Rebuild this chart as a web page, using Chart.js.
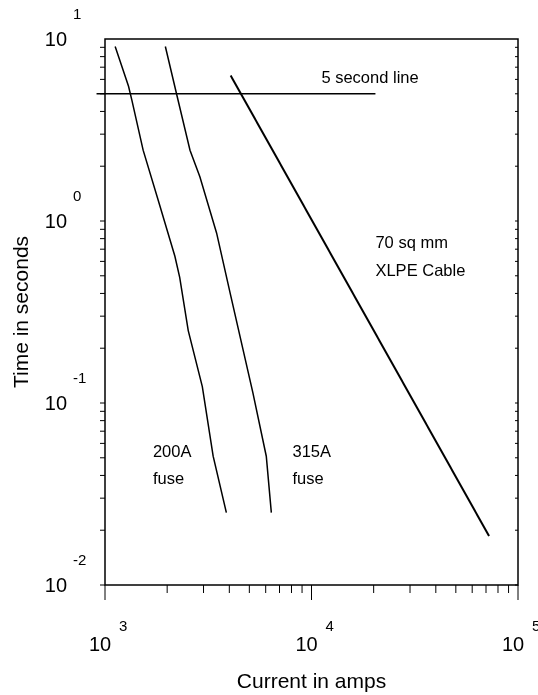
<!DOCTYPE html>
<html>
<head>
  <title>Fuse and cable time-current curves</title>
  <script src="https://cdn.jsdelivr.net/npm/chart.js"></script>
  <style>
    body { margin: 0; background: #fff; }
  </style>
</head>
<body>
<canvas id="chart" width="538" height="695"></canvas>
<script>
// values (current in A, time in s)
const fuse200Current = [1120, 1300, 1350, 1530, 1810, 2180, 2300, 2530, 2960, 3340, 3870];
const fuse200Time    = [9.1, 5.5, 4.6, 2.45, 1.3, 0.64, 0.49, 0.25, 0.123, 0.051, 0.025];
const fuse315Current = [1960, 2220, 2580, 2880, 3470, 4060, 5200, 6040, 6390];
const fuse315Time    = [9.1, 5.0, 2.45, 1.75, 0.86, 0.39, 0.114, 0.051, 0.025];
const cableCurrent   = [4060, 72400];
const cableTime      = [6.3, 0.0186];
const fiveSecCurrent = [910, 20400];
const fiveSecTime    = [5, 5];

const xTickExponents = [3, 4, 5];
const yTickExponents = [-2, -1, 0, 1];

const notes = [
  { text: '5 second line', x: 11170, y: 6.1 },
  { text: '70 sq mm', x: 20400, y: 0.757 },
  { text: 'XLPE Cable', x: 20400, y: 0.525 },
  { text: '200A', x: 1706, y: 0.0538 },
  { text: 'fuse', x: 1706, y: 0.0382 },
  { text: '315A', x: 8090, y: 0.0538 },
  { text: 'fuse', x: 8090, y: 0.0382 }
];

function pairs(xs, ys) {
  return xs.map((v, i) => ({ x: v, y: ys[i] }));
}

const FONT = '"Liberation Sans", Arial, sans-serif';

const decorations = {
  id: 'decorations',
  afterDraw(chart) {
    const { ctx, chartArea: a, scales: { x, y } } = chart;
    ctx.save();
    ctx.strokeStyle = '#000';
    ctx.fillStyle = '#000';

    ctx.lineWidth = 1.5;
    ctx.strokeRect(a.left, a.top, a.right - a.left, a.bottom - a.top);

    // tick marks
    ctx.lineWidth = 1;
    ctx.beginPath();
    for (let d = xTickExponents[0]; d < xTickExponents[xTickExponents.length - 1]; d++) {
      for (let m = 1; m <= 9; m++) {
        const px = x.getPixelForValue(m * Math.pow(10, d));
        const len = m === 1 ? 15 : 8;
        ctx.moveTo(px, a.bottom);
        ctx.lineTo(px, a.bottom + len);
      }
    }
    const pxEnd = x.getPixelForValue(Math.pow(10, xTickExponents[xTickExponents.length - 1]));
    ctx.moveTo(pxEnd, a.bottom);
    ctx.lineTo(pxEnd, a.bottom + 15);
    for (let d = yTickExponents[0]; d < yTickExponents[yTickExponents.length - 1]; d++) {
      for (let m = 1; m <= 9; m++) {
        const py = y.getPixelForValue(m * Math.pow(10, d));
        ctx.moveTo(a.left - 5, py);
        ctx.lineTo(a.left, py);
        ctx.moveTo(a.right, py);
        ctx.lineTo(a.right - 3, py);
      }
    }
    ctx.stroke();

    // tick labels as 10 with raised exponent
    ctx.textBaseline = 'middle';
    xTickExponents.forEach(e => {
      const px = x.getPixelForValue(Math.pow(10, e));
      ctx.font = '20px ' + FONT;
      ctx.textAlign = 'center';
      ctx.fillText('10', px - 5, a.bottom + 60);
      ctx.font = '15px ' + FONT;
      ctx.textAlign = 'left';
      ctx.fillText(String(e), px + 14, a.bottom + 42);
    });
    yTickExponents.forEach(e => {
      const py = y.getPixelForValue(Math.pow(10, e));
      ctx.font = '20px ' + FONT;
      ctx.textAlign = 'right';
      ctx.fillText('10', a.left - 38, py + 1);
      ctx.font = '15px ' + FONT;
      ctx.textAlign = 'left';
      ctx.fillText(String(e), a.left - 32, py - 24);
    });

    // axis titles
    ctx.font = '21px ' + FONT;
    ctx.textAlign = 'center';
    ctx.fillText('Current in amps', (a.left + a.right) / 2, 682);
    ctx.save();
    ctx.translate(22, (a.top + a.bottom) / 2);
    ctx.rotate(-Math.PI / 2);
    ctx.fillText('Time in seconds', 0, 0);
    ctx.restore();

    // notes on the plot
    ctx.font = '16.5px ' + FONT;
    ctx.textAlign = 'left';
    notes.forEach(n => {
      ctx.fillText(n.text, x.getPixelForValue(n.x), y.getPixelForValue(n.y));
    });
    ctx.restore();
  }
};

new Chart(document.getElementById('chart'), {
  type: 'scatter',
  data: {
    datasets: [
      { label: '200A fuse', data: pairs(fuse200Current, fuse200Time), borderWidth: 1.5 },
      { label: '315A fuse', data: pairs(fuse315Current, fuse315Time), borderWidth: 1.5 },
      { label: '70 sq mm XLPE Cable', data: pairs(cableCurrent, cableTime), borderWidth: 2 },
      { label: '5 second line', data: pairs(fiveSecCurrent, fiveSecTime), borderWidth: 1.5, clip: false }
    ].map(ds => Object.assign(ds, {
      showLine: true, borderColor: '#000', backgroundColor: '#000', pointRadius: 0, tension: 0
    }))
  },
  options: {
    responsive: false,
    animation: false,
    layout: { padding: { left: 0, right: 20, top: 39, bottom: 0 } },
    plugins: { legend: { display: false }, tooltip: { enabled: false } },
    scales: {
      x: {
        type: 'logarithmic', min: 1000, max: 100000,
        ticks: { display: false },
        grid: { display: false },
        border: { display: false },
        afterFit: s => { s.height = 110; }
      },
      y: {
        type: 'logarithmic', min: 0.01, max: 10,
        ticks: { display: false },
        grid: { display: false },
        border: { display: false },
        afterFit: s => { s.width = 105; }
      }
    }
  },
  plugins: [decorations]
});
</script>
</body>
</html>
